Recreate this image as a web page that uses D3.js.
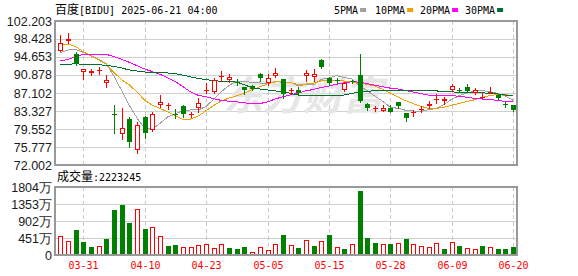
<!DOCTYPE html>
<html><head><meta charset="utf-8">
<script src="https://cdn.jsdelivr.net/npm/d3@7"></script>
<style>html,body{margin:0;padding:0;background:#fff;}svg{display:block;}</style>
</head><body><svg id="c" width="578" height="276"></svg>
<script>
const dates = ["03-26","03-27","03-28","03-31","04-01","04-02","04-03","04-04","04-07","04-08","04-09","04-10","04-11","04-14","04-15","04-16","04-17","04-21","04-22","04-23","04-24","04-25","04-28","04-29","04-30","05-01","05-02","05-05","05-06","05-07","05-08","05-09","05-12","05-13","05-14","05-15","05-16","05-19","05-20","05-21","05-22","05-23","05-27","05-28","05-29","05-30","06-02","06-03","06-04","06-05","06-06","06-09","06-10","06-11","06-12","06-13","06-16","06-17","06-18","06-20"];
const openP  = [95.97,97.94,95.28,91.57,91.24,91.72,89.14,82.70,78.44,81.65,75.15,82.00,79.34,84.65,84.35,82.80,84.38,82.65,84.02,87.50,87.31,90.40,89.83,89.45,88.30,88.57,91.02,89.14,90.74,90.04,87.50,87.73,90.67,90.52,94.02,90.32,89.75,87.73,89.70,90.88,84.80,83.85,83.39,83.90,85.28,83.00,83.00,83.60,84.38,85.70,85.49,87.66,87.80,88.36,87.17,86.20,87.20,86.60,84.80,84.52];
const highP  = [99.27,99.62,95.64,92.07,92.07,92.62,90.88,84.59,83.89,82.00,81.09,82.28,83.18,86.68,85.07,83.75,84.59,83.10,85.99,89.14,90.19,91.72,91.02,89.97,88.42,88.72,91.30,91.09,92.28,90.04,88.15,88.42,91.93,92.07,94.23,90.52,90.32,89.48,89.90,95.28,85.07,84.44,84.59,84.59,85.28,83.00,83.54,84.30,85.49,86.89,86.33,88.99,88.21,88.99,88.10,87.04,88.30,86.75,85.28,84.52];
const lowP   = [95.90,97.66,92.97,90.10,90.88,91.09,88.42,78.78,77.39,75.71,74.58,77.60,79.20,84.10,83.68,81.90,82.13,82.10,83.18,87.17,87.17,89.69,89.35,88.78,86.89,87.73,89.69,88.78,90.52,86.00,86.89,86.68,89.62,89.62,92.41,88.78,89.14,87.52,89.30,85.28,83.54,83.27,83.27,83.05,83.90,81.23,82.35,83.18,83.90,84.94,84.80,87.60,87.31,87.38,86.89,86.00,87.04,85.78,84.23,83.33];
const closeP = [97.52,98.35,93.46,92.07,91.72,91.93,89.83,82.60,79.70,76.89,80.39,78.65,82.63,85.15,84.50,82.60,82.63,82.80,84.94,87.70,89.83,90.67,90.39,89.25,87.73,87.94,90.33,90.19,91.36,86.89,87.70,87.04,91.36,91.09,92.62,89.14,89.60,89.26,89.60,85.42,83.90,83.95,84.02,83.18,84.38,81.80,83.20,83.75,84.80,85.85,85.91,88.57,87.65,87.59,87.80,86.35,87.30,85.99,84.65,83.54];
const ma5  = [95.56,96.12,96.26,95.63,95.00,94.20,93.20,90.60,87.60,84.50,81.85,79.68,79.55,80.74,82.10,82.70,83.50,83.54,83.55,84.30,85.80,87.40,88.70,89.60,89.60,89.30,89.20,89.10,89.50,89.35,89.29,88.64,88.87,88.82,89.96,90.25,90.76,90.34,90.04,88.60,87.56,86.43,85.38,84.09,83.89,83.47,83.32,83.26,83.59,83.88,84.70,85.78,86.56,87.11,87.50,87.59,87.34,87.01,86.42,85.57];
const ma10 = [97.17,97.38,96.82,95.77,94.86,94.02,93.11,91.40,89.90,88.80,87.30,85.60,84.55,83.85,83.15,82.30,81.55,81.65,82.30,83.40,84.50,85.45,86.05,86.50,87.10,87.80,88.40,89.00,89.45,89.40,89.25,88.88,88.98,89.16,89.65,89.77,89.70,89.61,89.43,89.28,88.90,88.59,87.86,87.07,86.25,85.51,84.87,84.32,83.84,83.88,84.08,84.55,84.91,85.35,85.69,86.15,86.56,86.78,86.77,86.54];
const ma20 = [93.81,94.16,94.72,95.21,95.28,95.28,95.21,94.72,94.16,93.53,92.83,92.13,91.58,91.00,90.30,89.50,88.40,87.30,86.60,86.30,85.92,85.53,85.38,85.24,85.04,84.84,84.87,85.25,85.83,86.33,86.69,87.11,87.55,87.85,88.25,88.58,88.93,89.25,89.48,89.37,89.07,88.74,88.42,88.12,87.95,87.64,87.29,86.96,86.64,86.58,86.49,86.57,86.38,86.21,85.97,85.83,85.71,85.55,85.30,85.21];
const ma30 = [93.11,93.11,93.25,93.11,93.04,93.04,92.90,92.69,92.34,91.93,91.72,91.51,91.44,91.37,91.30,91.15,90.85,90.45,90.15,89.90,89.70,89.55,89.48,89.38,88.80,88.20,87.94,87.75,87.55,87.35,87.03,86.65,86.58,86.55,86.58,86.48,86.48,86.70,87.03,87.31,87.43,87.61,87.65,87.59,87.58,87.56,87.58,87.61,87.60,87.54,87.41,87.34,87.25,87.19,87.20,87.14,87.04,86.90,86.68,86.57];
const volume = [504,371,663,345,212,239,424,1194,1326,849,1212,698,743,504,239,265,212,212,265,292,186,283,195,168,221,71,212,133,292,531,265,195,398,239,371,531,212,168,283,1698,460,318,283,292,318,424,283,239,212,318,168,345,239,186,159,239,212,159,159,222];
const volUp = [1,1,0,0,0,1,0,0,0,0,1,0,1,1,0,0,1,1,1,1,1,1,0,0,0,1,1,1,1,0,1,0,1,0,1,0,1,0,1,0,0,0,1,0,1,0,1,1,1,1,0,1,0,1,1,0,1,0,0,0];
const priceTicks = [102.203,98.428,94.653,90.878,87.102,83.327,79.552,75.777,72.002];
const volTicks = [1804,1353,902,451,0];
const dateTicks = ["03-31","04-10","04-23","05-05","05-15","05-28","06-09","06-20"];
const maNames = ["5PMA","10PMA","20PMA","30PMA"];
const maColors = ["#a0a0a0","#f0a000","#ff00ff","#006e2e"];
const titleCN = "百度", titleRest = "[BIDU] 2025-06-21 04:00";
const volLabelCN = "成交量", volLabelVal = ":2223245";

const svg = d3.select("#c");
const L = 55, R = 517, T = 21, B = 165, VT = 187, VB = 255;
const RED = "#ff0000", GRN = "#008000";
const x = d3.scalePoint().domain(dates).range([60.3, 513.1]);
const y = d3.scaleLinear().domain([72.002, 102.203]).range([B, T]);
const yv = d3.scaleLinear().domain([0, 1804]).range([VB, VT]);
const px = d => Math.round(x(d));

// grids
const g = svg.append("g").attr("shape-rendering","crispEdges");
g.selectAll(".hg").data(priceTicks.slice(1,-1)).enter().append("line")
  .attr("x1",L).attr("x2",R).attr("y1",d=>Math.round(y(d))+0.5).attr("y2",d=>Math.round(y(d))+0.5)
  .attr("stroke","#d0d0d0");
g.selectAll(".hv").data(volTicks.slice(1,-1)).enter().append("line")
  .attr("x1",L).attr("x2",R).attr("y1",d=>Math.round(yv(d))+0.5).attr("y2",d=>Math.round(yv(d))+0.5)
  .attr("stroke","#d0d0d0");
dateTicks.forEach(dt=>{
  const xx = px(dt)+0.5;
  [[T,B],[VT,VB]].forEach(([a,b])=>{
    g.append("line").attr("x1",xx).attr("x2",xx).attr("y1",a).attr("y2",b)
      .attr("stroke","#c8c8c8").attr("stroke-dasharray","4,3");
  });
});

// watermark
svg.append("text").attr("x",303).attr("y",110).attr("text-anchor","middle")
  .attr("font-family","Noto Sans CJK SC").attr("font-size",40).attr("font-weight","bold")
  .attr("font-style","italic").attr("fill","#e6e6e6").text("东方财富");

// MA lines
const mas = [ma5, ma10, ma20, ma30];
mas.forEach((arr,k)=>{
  const line = d3.line().x((d,i)=>x(dates[i])).y(d=>y(d));
  svg.append("path").attr("d",line(arr)).attr("fill","none")
    .attr("stroke",maColors[k]).attr("stroke-width",1).attr("shape-rendering","crispEdges");
});

// candles
const cg = svg.append("g").attr("shape-rendering","crispEdges");
dates.forEach((d,i)=>{
  const cx = px(d), o=openP[i], c=closeP[i], h=highP[i], l=lowP[i];
  const up = c >= o;
  const col = up ? RED : GRN;
  const yTop = Math.round(y(Math.max(o,c))), yBot = Math.round(y(Math.min(o,c)));
  const yH = Math.round(y(h)), yL = Math.round(y(l));
  if (up) {
    if (yBot - yTop >= 2) {
      cg.append("line").attr("x1",cx+0.5).attr("x2",cx+0.5).attr("y1",yH).attr("y2",yTop).attr("stroke",col);
      cg.append("line").attr("x1",cx+0.5).attr("x2",cx+0.5).attr("y1",yBot).attr("y2",yL+1).attr("stroke",col);
      cg.append("rect").attr("x",cx-1.5).attr("y",yTop+0.5).attr("width",4).attr("height",yBot-yTop-1)
        .attr("fill","#fff").attr("stroke",col);
    } else {
      cg.append("line").attr("x1",cx+0.5).attr("x2",cx+0.5).attr("y1",yH).attr("y2",yL+1).attr("stroke",col);
      cg.append("rect").attr("x",cx-2).attr("y",yTop).attr("width",5).attr("height",Math.max(1,yBot-yTop)).attr("fill",col);
    }
  } else {
    cg.append("line").attr("x1",cx+0.5).attr("x2",cx+0.5).attr("y1",yH).attr("y2",yL+1).attr("stroke",col);
    cg.append("rect").attr("x",cx-2).attr("y",yTop).attr("width",5).attr("height",Math.max(1,yBot-yTop)).attr("fill",col);
  }
});

// volume bars
const vg = svg.append("g").attr("shape-rendering","crispEdges");
dates.forEach((d,i)=>{
  const cx = px(d), top = Math.round(yv(volume[i]));
  if (volUp[i]) {
    vg.append("rect").attr("x",cx-1.5).attr("y",top+0.5).attr("width",4).attr("height",VB-top-1)
      .attr("fill","#fff").attr("stroke",RED);
  } else {
    vg.append("rect").attr("x",cx-2).attr("y",top).attr("width",5).attr("height",VB-top).attr("fill",GRN);
  }
});

// borders
const bg = svg.append("g").attr("shape-rendering","crispEdges").attr("fill","none").attr("stroke","#999").attr("stroke-width",2);
bg.append("rect").attr("x",L).attr("y",T).attr("width",R-L).attr("height",B-T);
bg.append("rect").attr("x",L).attr("y",VT).attr("width",R-L).attr("height",VB-VT);

// axis labels
const sans = "Liberation Sans, Arial, sans-serif";
svg.selectAll(".pl").data(priceTicks).enter().append("text")
  .attr("x",52).attr("y",d=>y(d)+4.5).attr("text-anchor","end")
  .attr("font-family",sans).attr("font-size",12.5).attr("fill","#1a1a1a").text(d=>d.toFixed(3));
svg.selectAll(".vl").data(volTicks).enter().append("text")
  .attr("x",52).attr("y",d=>yv(d)+4.5).attr("text-anchor","end")
  .attr("font-family",sans).attr("font-size",12.5).attr("fill","#1a1a1a")
  .text(d=> d===0 ? "0" : d+"万");
svg.selectAll(".dl").data(dateTicks).enter().append("text")
  .attr("x",d=>px(d)+0.5).attr("y",269).attr("text-anchor","middle")
  .attr("font-family","DejaVu Sans Mono, monospace").attr("font-size",10).attr("fill",RED).text(d=>d);

// title
const t = svg.append("text").attr("x",55).attr("y",14).attr("fill","#000");
t.append("tspan").attr("font-family","Noto Sans CJK SC").attr("font-size",12).text(titleCN);
t.append("tspan").attr("font-family","DejaVu Sans Mono, monospace").attr("font-size",10).text(titleRest);

const v = svg.append("text").attr("x",57).attr("y",181).attr("fill","#000");
v.append("tspan").attr("font-family","Noto Sans CJK SC").attr("font-size",12).text(volLabelCN);
v.append("tspan").attr("font-family","DejaVu Sans Mono, monospace").attr("font-size",10).text(volLabelVal);

// legend
const legX = [334, 375, 420, 465];
maNames.forEach((n,k)=>{
  svg.append("text").attr("x",legX[k]).attr("y",14)
    .attr("font-family","DejaVu Sans Mono, monospace").attr("font-size",10).attr("fill","#000").text(n);
  const w = n.length*6.02;
  svg.append("rect").attr("x",legX[k]+w+2).attr("y",8).attr("width",6).attr("height",4).attr("fill",maColors[k]);
});
</script></body></html>
